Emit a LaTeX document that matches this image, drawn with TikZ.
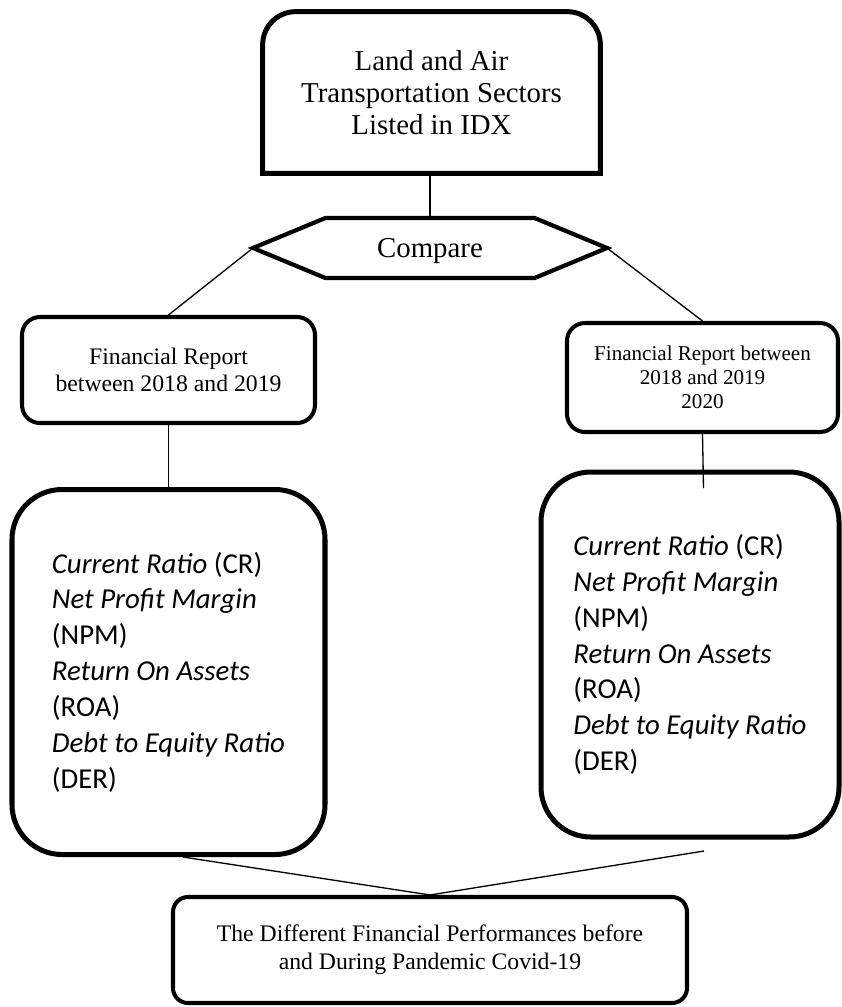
\documentclass[tikz,border=0pt]{standalone}
\usepackage{fontspec}
\setmainfont{Liberation Serif}
\newfontfamily\calib{Carlito}
\usetikzlibrary{shapes.symbols}

\begin{document}
\begin{tikzpicture}[
  tb/.style={rectangle, align=center, minimum width=6.74cm, minimum height=3.22cm,
    font=\fontsize{16.4}{18.2}\selectfont},
  hx/.style={signal, signal to=west and east, signal pointer angle=45, draw,
    line width=2.4pt, inner sep=0pt, outer sep=0pt, text height=0.38cm, text depth=0pt,
    minimum width=7.08cm, minimum height=1.2cm, font=\fontsize{16.4}{18}\selectfont},
  fr/.style={rectangle, draw, rounded corners=0.36cm, line width=2.3pt, align=center},
  mb/.style={rectangle, draw, rounded corners=1cm, line width=2.85pt, align=left,
    minimum height=7.3cm, font=\calib\fontsize{16.4}{20.4}\selectfont},
  rb/.style={rectangle, draw, rounded corners=0.3cm, line width=2.3pt, align=center,
    minimum width=10.28cm, minimum height=2.12cm, font=\fontsize{13.5}{15.9}\selectfont},
  l/.style={line width=0.75pt}
]
\useasboundingbox (0,0) rectangle (16.82,-20.14);
\node[tb] (top) at (8.63,-1.85) {Land and Air\\Transportation Sectors\\Listed in IDX};
% only the upper corners are rounded
\draw[line width=2.85pt] (top.south west) -- ([yshift=-0.66cm]top.north west)
  arc[start angle=180, end angle=90, radius=0.66cm] -- ([xshift=-0.66cm]top.north east)
  arc[start angle=90, end angle=0, radius=0.66cm] -- (top.south east) -- cycle;
\node[hx] (cmp) at (8.6,-4.96) {Compare};
\node[fr, minimum width=5.86cm, minimum height=2.12cm, font=\fontsize{13.5}{15.4}\selectfont]
  (fr1) at (3.37,-7.40) {Financial Report\\between 2018 and 2019};
\node[fr, minimum width=5.42cm, minimum height=2.18cm, font=\fontsize{12}{13.6}\selectfont]
  (fr2) at (14.05,-7.55) {Financial Report between\\2018 and 2019\\2020};
\node[mb, minimum width=6.26cm] (m1) at (3.37,-13.44)
  {\textit{Current Ratio} (CR)\\\textit{Net Profit Margin}\\(NPM)\\\textit{Return On Assets}\\(ROA)\\\textit{Debt to Equity Ratio}\\(DER)};
\node[mb, minimum width=5.96cm] (m2) at (13.8,-13.09)
  {\textit{Current Ratio} (CR)\\\textit{Net Profit Margin}\\(NPM)\\\textit{Return On Assets}\\(ROA)\\\textit{Debt to Equity Ratio}\\(DER)};
\node[rb] (res) at (8.6,-19.0) {The Different Financial Performances before\\and During Pandemic Covid-19};
\coordinate (m2in) at (14.07,-9.76);
\coordinate (m2out) at (14.08,-17.02);
\draw[l] (cmp.north) -- (cmp.north |- top.south);
\draw[l] (cmp.west) -- (fr1.north);
\draw[l] (cmp.east) -- (fr2.north);
\draw[l] (fr1) -- (m1);
\draw[l] (fr2.south) -- (m2in);
\draw[l] ([xshift=0.29cm]m1.south) -- (res.north);
\draw[l] (m2out) -- (res.north);
\end{tikzpicture}
\end{document}
